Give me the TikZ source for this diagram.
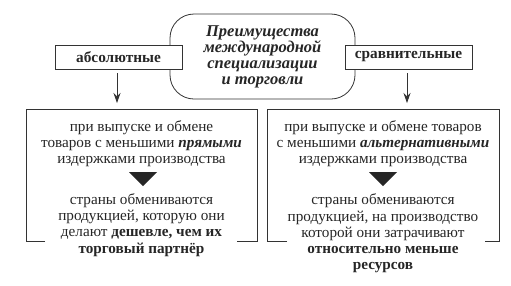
\documentclass[tikz,border=0pt]{standalone}
\usepackage{fontspec}
\setmainfont{Liberation Serif}
\usetikzlibrary{arrows.meta}
\begin{document}
\begin{tikzpicture}[x=1pt,y=-1pt,
  line/.style={draw=black!80, line width=0.8pt},
  smallbox/.style={line, fill=white, minimum width=127pt, minimum height=24pt, inner sep=0pt,
    font=\bfseries\fontsize{15.3}{16}\selectfont, text=black!85},
  titlebox/.style={line, rounded corners=24pt, minimum width=185pt, minimum height=85pt, inner sep=0pt,
    align=center, font=\bfseries\itshape\fontsize{16.5}{16}\selectfont, text=black!85},
  body/.style={align=center, inner sep=0pt, font=\fontsize{15.2}{16.3}\selectfont, text=black!85},
  arr/.style={line, -{Stealth[length=10pt,width=7pt]}},
  tri/.style={fill=black!85, draw=none}]
\useasboundingbox[fill=white] (0,0) rectangle (511,285);
% title
\node[titlebox] (title) at (262.5,56.5) {Преимущества\\международной\\специализации\\и торговли};
\node[smallbox] (abs) at (118.5,57) {абсолютные};
\node[smallbox] (cmp) at (408.5,57) {сравнительные};
% frames
\coordinate (lt) at (117,109);
\coordinate (rt) at (407,109);
\draw[line] (45,241) -- (26,241) -- (26,109) -- (257,109) -- (257,241) -- (237,241);
\draw[line] (287,241) -- (267,241) -- (267,109) -- (499,109) -- (499,241) -- (485,241);
\draw[arr, shorten <=4pt, shorten >=6pt] (abs.south -| lt) -- (lt);
\draw[arr, shorten <=4pt, shorten >=6pt] (cmp.south -| rt) -- (rt);
% left texts
\node[body] (lup) at (141.5,143.5) {при выпуске и обмене\\товаров с меньшими \textbf{\textit{прямыми}}\\издержками производства};
\node[body] (llow) at (141.5,225) {страны обмениваются\\продукцией, которую они\\делают \textbf{дешевле, чем их}\\\textbf{торговый партнёр}};
\fill[tri] (129,172) -- (157,172) -- (143,186) -- cycle;
% right texts
\node[body] (rup) at (383,143.5) {при выпуске и обмене товаров\\с меньшими \textbf{\textit{альтернативными}}\\издержками производства};
\node[body] (rlow) at (383,233.5) {страны обмениваются\\продукцией, на производство\\которой они затрачивают\\\textbf{относительно меньше}\\\textbf{ресурсов}};
\fill[tri] (369,172) -- (397,172) -- (383,186) -- cycle;
\end{tikzpicture}
\end{document}
